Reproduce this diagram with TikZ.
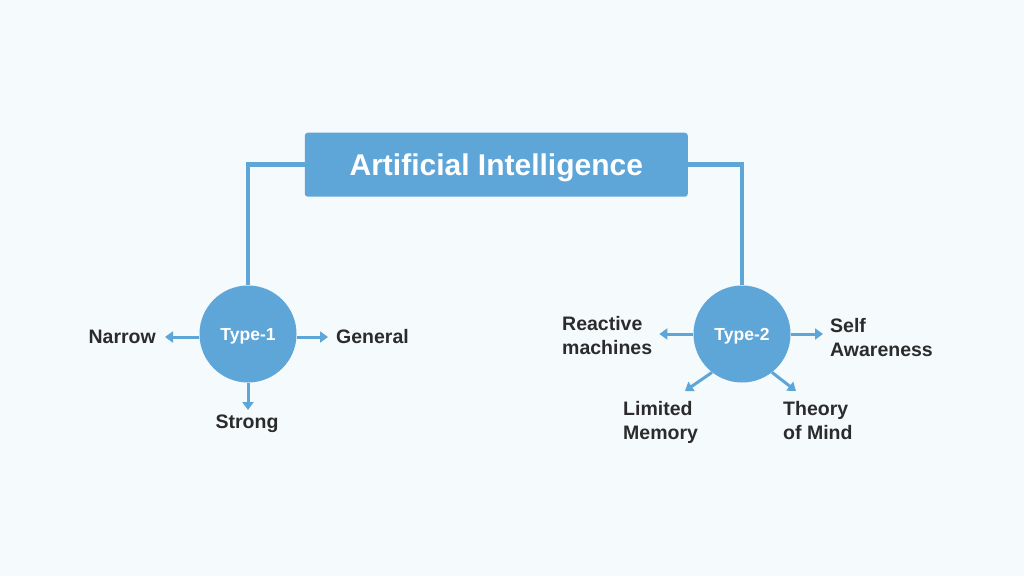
\documentclass[tikz,border=0pt]{standalone}
\usepackage{fontspec}
\setmainfont{Liberation Sans}
\usetikzlibrary{arrows.meta}

\definecolor{aiblue}{HTML}{5EA5D8}
\definecolor{aibg}{HTML}{F5FAFD}
\definecolor{aitext}{HTML}{2B2B2B}

\begin{document}
\begin{tikzpicture}[x=1pt,y=-1pt,
		titlebox/.style={fill=aiblue,rounded corners=3pt,minimum width=383pt,minimum height=64pt,inner sep=0pt,text=white,text height=21.5pt,text depth=0pt,font=\bfseries\fontsize{30}{36}\selectfont},
		typecircle/.style={circle,fill=aiblue,minimum size=97pt,inner sep=0pt,text=white,text height=12.5pt,text depth=0pt,font=\bfseries\fontsize{17.5}{21}\selectfont},
		leaf/.style={inner sep=0pt,text=aitext,align=left,font=\bfseries\fontsize{19.5}{24}\selectfont},
		link/.style={aiblue,line width=4.5pt},
		arr/.style={aiblue,line width=3pt,-{Triangle[length=8pt,width=11pt]}}]

		\fill[aibg] (0,0) rectangle (1024,576);
		\useasboundingbox (0,0) rectangle (1024,576);

		\node[titlebox] (ai) at (496.3,164.7) {Artificial Intelligence};

		\node[typecircle] (t1) at (248,334) {Type-1};
		\node[typecircle] (t2) at (742,334) {Type-2};

		\draw[link] (ai.west) -| (t1.north);
		\draw[link] (ai.east) -| (t2.north);

		% Type-1 leaves
		\node[leaf,anchor=east] (narrow) at (156,337) {Narrow};
		\node[leaf,anchor=west] (general) at (336,337) {General};
		\node[leaf,anchor=north] (strong) at (247,415) {Strong};

		\draw[arr,shorten >=9pt] (t1.west |- narrow.east) -- (narrow.east);
		\draw[arr,shorten >=8pt] (t1.east |- general.west) -- (general.west);
		\draw[arr,shorten >=5pt] (t1.south) -- (t1.south |- strong.north);

		% Type-2 leaves
		\node[leaf,anchor=north west] (react) at (562,316) {Reactive\\machines};
		\node[leaf,anchor=north west] (self) at (830,318) {Self\\Awareness};
		\node[leaf,anchor=north west] (limited) at (623,401) {Limited\\Memory};
		\node[leaf,anchor=north west] (theory) at (783,401) {Theory\\of Mind};

		\coordinate (lm) at (685,391);
		\coordinate (tm) at (796,391);

		\draw[arr,shorten >=7pt] (t2.west) -- (t2.west -| react.east);
		\draw[arr,shorten >=7pt] (t2.east) -- (t2.east -| self.west);
		\draw[arr] (t2.-128) -- (lm);
		\draw[arr] (t2.-52) -- (tm);
\end{tikzpicture}
\end{document}
